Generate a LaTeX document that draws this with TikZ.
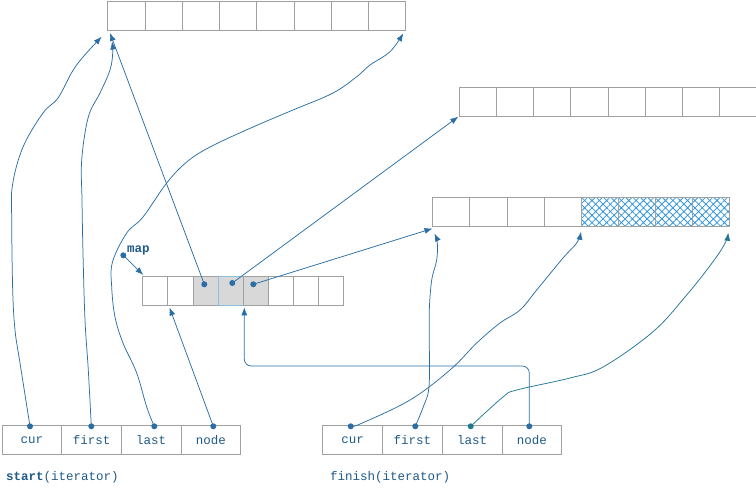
\documentclass[tikz,border=0pt]{standalone}
\usepackage{fontspec}
\setmonofont{Liberation Mono}
\usetikzlibrary{arrows.meta,patterns.meta}
\definecolor{lc}{RGB}{42,110,165}
\definecolor{tc}{RGB}{30,90,138}
\definecolor{gc}{RGB}{160,160,160}
\definecolor{hc}{RGB}{50,150,222}
\definecolor{tealc}{RGB}{31,122,140}
\definecolor{shade}{RGB}{216,216,216}
\definecolor{lb}{RGB}{138,192,220}
\begin{document}
\begin{tikzpicture}[x=1pt,y=-1pt,
  cell/.style={draw=gc, line width=0.8pt, rectangle, inner sep=0pt, anchor=north west,
    minimum height=29pt, font=\ttfamily\fontsize{12.5}{14}\selectfont, text=tc},
  hatched/.style={pattern={Hatch[angle=45,distance=5.2pt,line width=0.8pt]}, pattern color=hc},
  dot/.style={circle, fill=lc, inner sep=0pt, minimum size=6pt},
  conn/.style={draw=lc, line width=0.75pt, -{Latex[length=8pt,width=6pt]}},
  lab/.style={font=\ttfamily\fontsize{12.5}{14}\selectfont, text=tc, inner sep=0pt, anchor=base west}]
\useasboundingbox (0,0) rectangle (756,491);

% buffer 1 (top)
\foreach \i in {0,...,7}
  \node[cell, minimum width=37.25pt] (a\i) at ({107.3+37.25*\i},0.5) {};
% buffer 2 (top right)
\foreach \i in {0,...,7}
  \node[cell, minimum width=37.15pt] (b\i) at ({459+37.15*\i},87.3) {};
% buffer 3 (middle right)
\foreach \i in {0,...,3}
  \node[cell, minimum width=37.125pt] (c\i) at ({432.3+37.125*\i},197.3) {};
\foreach \i in {4,...,7}
  \node[cell, hatched, minimum width=37.125pt] (c\i) at ({432.3+37.125*\i},197.3) {};

% map
\node[cell, minimum width=25.125pt] (m0) at (142.3,276.3) {};
\node[cell, minimum width=25.125pt] (m1) at (167.4,276.3) {};
\node[cell, fill=shade, minimum width=25.125pt] (m2) at (192.6,276.3) {};
\node[cell, fill=shade, draw=lb, minimum width=25.125pt] (m3) at (217.7,276.3) {};
\node[cell, fill=shade, minimum width=25.125pt] (m4) at (242.8,276.3) {};
\node[cell, minimum width=25.125pt] (m5) at (267.9,276.3) {};
\node[cell, minimum width=25.125pt] (m6) at (293.1,276.3) {};
\node[cell, minimum width=25.125pt] (m7) at (318.2,276.3) {};

% iterators
\node[cell, minimum width=59.65pt] (s0) at (1.7,425.3) {cur};
\node[cell, minimum width=59.65pt] (s1) at (61.35,425.3) {first};
\node[cell, minimum width=59.65pt] (s2) at (121,425.3) {last};
\node[cell, minimum width=59.65pt] (s3) at (180.65,425.3) {node};
\node[cell, minimum width=59.75pt] (f0) at (322.3,425.3) {cur};
\node[cell, minimum width=59.75pt] (f1) at (382.05,425.3) {first};
\node[cell, minimum width=59.75pt] (f2) at (441.8,425.3) {last};
\node[cell, minimum width=59.75pt] (f3) at (501.55,425.3) {node};

\node[lab] (slab) at (6,480.5) {\textbf{start}(iterator)};
\node[lab] (flab) at (330,480.5) {finish(iterator)};
\node[lab] (mlab) at (127,252.5) {\textbf{map}};

% dots
\node[dot] (sc) at (30,426.3) {};
\node[dot] (sf) at (91.3,426.3) {};
\node[dot] (sl) at (154.3,426.3) {};
\node[dot] (sn) at (213.3,426.3) {};
\node[dot] (fc) at (350.7,426.3) {};
\node[dot] (ff) at (415.3,426.3) {};
\node[dot, fill=tealc] (fl) at (470.7,426.3) {};
\node[dot] (fn) at (529.3,426.3) {};
\node[dot] (md2) at (204.3,284.3) {};
\node[dot] (md3) at (232.3,283) {};
\node[dot] (md4) at (253.3,284.3) {};
\node[dot] (mapdot) at (123.3,255.3) {};

% arrow tips
\coordinate (t1a) at (101.7,36.7);
\coordinate (t1b) at (112,41.5);
\coordinate (t1c) at (403.3,33.3);
\coordinate (t1d) at (110,33);
\coordinate (t2a) at (458.3,116.7);
\coordinate (t3a) at (432.5,228.5);
\coordinate (t3b) at (434.5,233.5);
\coordinate (t3c) at (581,231.7);
\coordinate (t3d) at (728.3,232.7);
\coordinate (tm0) at (143.3,275);
\coordinate (tm1) at (169.5,307.5);
\coordinate (tm2) at (244.3,307.3);

% start connectors
\draw[conn] plot[smooth, tension=0.6] coordinates {(sc.center) (20,363) (15,330) (12.7,290) (11.7,220) (12.5,185) (23,147) (43,113) (58,98) (72,72) (83,57) (t1a)};
\draw[conn] plot[smooth, tension=0.6] coordinates {(sf.center) (88.3,370) (85,320) (83,253) (82,200) (81.7,160) (88.3,117) (100,93) (110,70) (112.7,53) (t1b)};
\draw[conn] plot[smooth, tension=0.6] coordinates {(sl.center) (146.7,407) (136.7,373) (123,343) (115,317) (111.7,287) (112.5,262) (126.7,233) (143,217) (166.7,183) (186.7,162) (210,147) (253,127) (293,110) (333,93) (356.7,76.7) (370,65) (390,51.7) (t1c)};
\draw[conn] (sn.center) -- (tm1);

% map connectors
\draw[conn] (mapdot.center) -- (tm0);
\draw[conn] (md2.center) -- (t1d);
\draw[conn] (md3.center) -- (t2a);
\draw[conn] (md4.center) -- (t3a);

% finish connectors
\draw[conn] plot[smooth, tension=0.6] coordinates {(fc.center) (360,424) (410,400) (450,370) (476.7,343) (500,323) (520,310) (536.7,290) (563,258) (576.7,243) (t3c)};
\draw[conn] plot[smooth, tension=0.6] coordinates {(ff.center) (423.3,406.7) (429,386.7) (429.3,340) (429.3,310) (431.7,280) (436.7,260) (437.3,243) (t3b)};
\draw[conn, draw=tealc!70!lc] plot[smooth, tension=0.6] coordinates {(fl.center) (503,397) (516.7,390) (570,378) (603,367) (653,331.7) (686.7,295) (713,261.7) (725,243.3) (t3d)};
\draw[conn, rounded corners=7pt] (fn.center) -- (529.3,366) -- (244.3,366) -- (tm2);
\end{tikzpicture}
\end{document}
